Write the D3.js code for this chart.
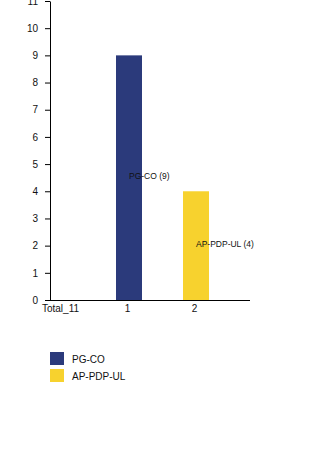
<!DOCTYPE html>
<html>
<head>
<meta charset="utf-8">
<script src="https://cdn.jsdelivr.net/npm/d3@7"></script>
<style>
  html, body { margin: 0; padding: 0; background: #fff; }
  text { font-family: "Liberation Sans", Arial, sans-serif; }
</style>
</head>
<body>
<svg id="chart" width="320" height="450"></svg>
<script>
const categories = ["Total_11", "1", "2"];
const seriesNames = ["PG-CO", "AP-PDP-UL"];
const seriesValues = [9, 4];
const seriesCategory = ["1", "2"];
const seriesColors = ["#2b3a7b", "#f7d22e"];
const yTicks = [0, 1, 2, 3, 4, 5, 6, 7, 8, 9, 10, 11];

const svg = d3.select("#chart");
const x = d3.scalePoint().domain(categories).range([60, 194]);
const y = d3.scaleLinear().domain([0, 11]).range([300, 1]);
const barW = 26;

// bars
svg.append("g").selectAll("rect")
  .data(seriesValues)
  .join("rect")
  .attr("x", (d, i) => x(seriesCategory[i]) + 2 - barW / 2)
  .attr("y", d => y(d))
  .attr("width", barW)
  .attr("height", d => y(0) - y(d))
  .attr("fill", (d, i) => seriesColors[i]);

// bar labels
svg.append("g").selectAll("text")
  .data(seriesValues)
  .join("text")
  .attr("x", (d, i) => x(seriesCategory[i]) + 2)
  .attr("y", d => y(d / 2) - 2)
  .attr("dy", "0.35em")
  .attr("font-size", 8.5)
  .attr("fill", "#111")
  .text((d, i) => `${seriesNames[i]} (${d})`);

// y axis
const ya = svg.append("g").attr("transform", "translate(50,0)")
  .call(d3.axisLeft(y).tickValues(yTicks).tickFormat(d3.format("d")).tickSize(5).tickSizeOuter(0).tickPadding(7));
ya.selectAll("text").attr("font-size", 10).attr("fill", "#111").style("font-family", "Liberation Sans, Arial, sans-serif");
ya.select(".domain").attr("stroke", "#000");
ya.selectAll(".tick line").attr("stroke", "#000");

// x axis
const xa = svg.append("g").attr("transform", "translate(0,300)")
  .call(d3.axisBottom(x).tickSize(0).tickPadding(5));
xa.select(".domain").attr("d", "M50,0.5H250").attr("stroke", "#000");
xa.selectAll("text").attr("font-size", 10).attr("fill", "#111").style("font-family", "Liberation Sans, Arial, sans-serif");

// legend
const lg = svg.append("g").attr("transform", "translate(50,352)");
seriesNames.forEach((name, i) => {
  lg.append("rect").attr("x", 0).attr("y", i * 17).attr("width", 14).attr("height", 13).attr("fill", seriesColors[i]);
  lg.append("text").attr("x", 22).attr("y", i * 17 + 11).attr("font-size", 10).attr("fill", "#111").text(name);
});
</script>
</body>
</html>
